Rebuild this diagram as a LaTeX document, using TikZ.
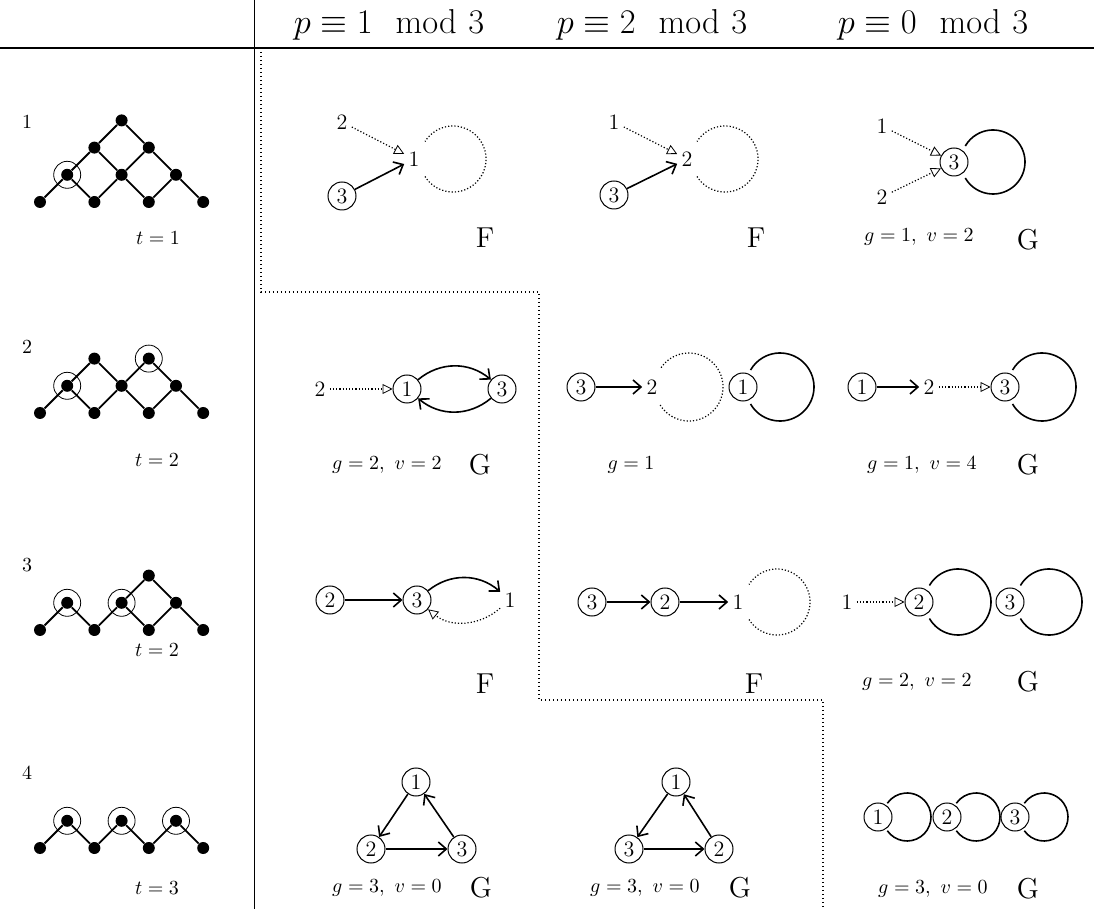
\documentclass[tikz,border=0pt]{standalone}
\usepackage{amsmath,amssymb}
\usepackage{tikz}
\usetikzlibrary{arrows.meta,positioning,calc}

\begin{document}
\begin{tikzpicture}[x=0.5pt, y=-0.5pt]
        \tikzstyle{dot} = [circle, fill, inner sep=0pt, minimum size=6pt]
        \tikzstyle{ring} = [circle, draw, inner sep=0pt, minimum size=13.5pt,
                            line width=0.4pt]
        \tikzstyle{vtx} = [circle, draw, inner sep=0pt, minimum size=14pt,
                           line width=0.5pt, font=\fontsize{11}{13}\selectfont]
        \tikzstyle{lbl} = [inner sep=2pt, font=\fontsize{11}{13}\selectfont]
        \tikzstyle{arrow} = [draw, -{Straight Barb[length=4pt,width=7pt]},
                             line width=0.8pt]
        \tikzstyle{darrow} = [draw, densely dotted, line width=0.6pt,
                              -{Triangle[open,length=5pt,width=5pt,line width=0.4pt]}]
        \tikzstyle{selfloop} = [draw, line width=0.8pt]
        \tikzstyle{dselfloop} = [draw, densely dotted, line width=0.6pt]
        \tikzstyle{stair} = [draw, line width=0.6pt, dash pattern=on 0.6pt off 1.4pt]
        \tikzstyle{lattice} = [draw, line width=0.9pt]
        \tikzstyle{head} = [font=\fontsize{16}{19}\selectfont]
        \tikzstyle{verdict} = [font=\Large]
        \useasboundingbox (0,0) rectangle (1094,909);

        \draw[line width=0.5pt] (254,0) -- (254,909);
        \draw[line width=1.2pt] (0,48) -- (1094,48);
        \path[stair] (261,52) -- (261,292) -- (539,292) -- (539,700)
                     -- (823,700) -- (823,909);
        \node[head] (h1) at (389,25) {$p\equiv 1 \mod 3$};
        \node[head] (h2) at (652,25) {$p\equiv 2 \mod 3$};
        \node[head] (h3) at (933,25) {$p\equiv 0 \mod 3$};

        \node (n1) at (27,122) {1};
        \foreach \i/\h in {0/0,1/1,2/0,2/2,3/1,3/3,4/0,4/2,5/1,6/0}
          \node[dot] (a\i\h) at (40+27.2*\i, 202-27.2*\h) {};
        \foreach \p/\q in {00/11,11/22,22/33,33/42,42/51,51/60,
                           11/20,20/31,31/40,40/51,22/31,31/42}
          \path[lattice] (a\p) -- (a\q);
        \node[ring] at (a11) {};
        \node (t1) at (158,238) {$t=1$};

        \node (n2) at (27,347) {2};
        \foreach \i/\h in {0/0,1/1,2/0,2/2,3/1,4/0,4/2,5/1,6/0}
          \node[dot] (b\i\h) at (40+27.2*\i, 413-27.2*\h) {};
        \foreach \p/\q in {00/11,11/22,22/31,31/42,42/51,51/60,
                           11/20,20/31,31/40,40/51}
          \path[lattice] (b\p) -- (b\q);
        \node[ring] at (b11) {};
        \node[ring] at (b42) {};
        \node (t2) at (157,460) {$t=2$};

        \node (n3) at (27,565) {3};
        \foreach \i/\h in {0/0,1/1,2/0,3/1,4/0,4/2,5/1,6/0}
          \node[dot] (c\i\h) at (40+27.2*\i, 630-27.2*\h) {};
        \foreach \p/\q in {00/11,11/20,20/31,31/42,42/51,51/60,31/40,40/51}
          \path[lattice] (c\p) -- (c\q);
        \node[ring] at (c11) {};
        \node[ring] at (c31) {};
        \node (t3) at (157,650) {$t=2$};

        \node (n4) at (27,773) {4};
        \foreach \i/\h in {0/0,1/1,2/0,3/1,4/0,5/1,6/0}
          \node[dot] (d\i\h) at (40+27.2*\i, 848-27.2*\h) {};
        \foreach \p/\q in {00/11,11/20,20/31,31/40,40/51,51/60}
          \path[lattice] (d\p) -- (d\q);
        \foreach \k in {11,31,51}
          \node[ring] at (d\k) {};
        \node (t4) at (157,888) {$t=3$};

        \node[lbl] (aa2) at (342,122) {2};
        \node[lbl] (aa1) at (414,159) {1};
        \node[vtx] (aa3) at (342,196) {3};
        \path[darrow] (aa2) -- (aa1);
        \path[arrow] (aa3) -- (aa1);
        \path[dselfloop] (aa1) ++(39,0) ++(148:33)
                         arc[start angle=148, end angle=-148, radius=33];
        \node[verdict] (aaF) at (485,238) {F};

        \node[lbl] (ab1) at (614,122) {1};
        \node[lbl] (ab2) at (687,159) {2};
        \node[vtx] (ab3) at (614,195) {3};
        \path[darrow] (ab1) -- (ab2);
        \path[arrow] (ab3) -- (ab2);
        \path[dselfloop] (ab2) ++(38,0) ++(148:33)
                         arc[start angle=148, end angle=-148, radius=33];
        \node[verdict] (abF) at (756,238) {F};

        \node[lbl] (ac1) at (882,126) {1};
        \node[lbl] (ac2) at (882,197) {2};
        \node[vtx] (ac3) at (954,162) {3};
        \path[darrow] (ac1) -- (ac3);
        \path[darrow] (ac2) -- (ac3);
        \path[selfloop] (ac3) ++(39,0) ++(150:32)
                        arc[start angle=150, end angle=-150, radius=32];
        \node (acgv) at (919,237) {$g=1,\ v=2$};
        \node[verdict] (acG) at (1028,240) {G};

        \node[lbl] (ba2) at (320,389) {2};
        \node[vtx] (ba1) at (407,389) {1};
        \node[vtx] (ba3) at (502,389) {3};
        \path[darrow] (ba2) -- (ba1);
        \path[arrow] (ba1) to[bend left=40] (ba3);
        \path[arrow] (ba3) to[bend left=40] (ba1);
        \node (bagv) at (387,465) {$g=2,\ v=2$};
        \node[verdict] (baG) at (480,465) {G};

        \node[vtx] (bb3) at (581,387) {3};
        \node[lbl] (bb2) at (652,387) {2};
        \node[vtx] (bb1) at (743,387) {1};
        \path[arrow] (bb3) -- (bb2);
        \path[dselfloop] (bb2) ++(37,0) ++(148:34)
                         arc[start angle=148, end angle=-148, radius=34];
        \path[selfloop] (bb1) ++(37,0) ++(150:34)
                        arc[start angle=150, end angle=-150, radius=34];
        \node (bbgv) at (631,465) {$g=1$};

        \node[vtx] (bc1) at (862,387) {1};
        \node[lbl] (bc2) at (929,387) {2};
        \node[vtx] (bc3) at (1005,387) {3};
        \path[arrow] (bc1) -- (bc2);
        \path[darrow] (bc2) -- (bc3);
        \path[selfloop] (bc3) ++(37,0) ++(150:34)
                        arc[start angle=150, end angle=-150, radius=34];
        \node (bcgv) at (922,465) {$g=1,\ v=4$};
        \node[verdict] (bcG) at (1028,465) {G};

        \node[vtx] (ca2) at (330,600) {2};
        \node[vtx] (ca3) at (417,600) {3};
        \node[lbl] (ca1) at (510,600) {1};
        \path[arrow] (ca2) -- (ca3);
        \path[arrow] (ca3) to[bend left=40] (ca1);
        \path[darrow] (ca1) to[bend left=40] (ca3);
        \node[verdict] (caF) at (485,684) {F};

        \node[vtx] (cb3) at (592,602) {3};
        \node[vtx] (cb2) at (665,602) {2};
        \node[lbl] (cb1) at (738,602) {1};
        \path[arrow] (cb3) -- (cb2);
        \path[arrow] (cb2) -- (cb1);
        \path[dselfloop] (cb1) ++(39,0) ++(148:33)
                         arc[start angle=148, end angle=-148, radius=33];
        \node[verdict] (cbF) at (754,684) {F};

        \node[lbl] (cc1) at (847,602) {1};
        \node[vtx] (cc2) at (919,602) {2};
        \node[vtx] (cc3) at (1010,602) {3};
        \path[darrow] (cc1) -- (cc2);
        \path[selfloop] (cc2) ++(39,0) ++(150:33)
                        arc[start angle=150, end angle=-150, radius=33];
        \path[selfloop] (cc3) ++(39,0) ++(150:33)
                        arc[start angle=150, end angle=-150, radius=33];
        \node (ccgv) at (917,682) {$g=2,\ v=2$};
        \node[verdict] (ccG) at (1028,682) {G};

        \node[vtx] (da1) at (416,782) {1};
        \node[vtx] (da2) at (371,849) {2};
        \node[vtx] (da3) at (462,849) {3};
        \path[arrow] (da1) -- (da2);
        \path[arrow] (da2) -- (da3);
        \path[arrow] (da3) -- (da1);
        \node (dagv) at (387,888) {$g=3,\ v=0$};
        \node[verdict] (daG) at (481,888) {G};

        \node[vtx] (db1) at (676,782) {1};
        \node[vtx] (db3) at (629,849) {3};
        \node[vtx] (db2) at (719,849) {2};
        \path[arrow] (db1) -- (db3);
        \path[arrow] (db3) -- (db2);
        \path[arrow] (db2) -- (db1);
        \node (dbgv) at (645,888) {$g=3,\ v=0$};
        \node[verdict] (dbG) at (740,888) {G};

        \node[vtx] (dc1) at (878,817) {1};
        \node[vtx] (dc2) at (947,817) {2};
        \node[vtx] (dc3) at (1015,817) {3};
        \foreach \k in {1,2,3}
          \path[selfloop] (dc\k) ++(29,0) ++(145:24)
                          arc[start angle=145, end angle=-145, radius=24];
        \node (dcgv) at (933,889) {$g=3,\ v=0$};
        \node[verdict] (dcG) at (1028,889) {G};
      \end{tikzpicture}
\end{document}
